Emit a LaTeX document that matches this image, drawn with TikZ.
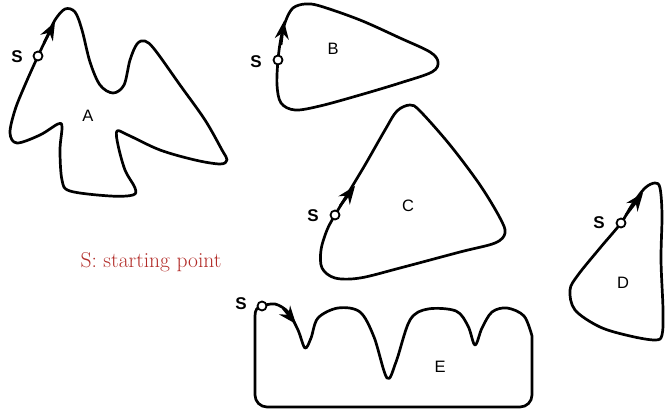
\documentclass[tikz,border=0pt]{standalone}
\usepackage{fontspec}
\setsansfont{Liberation Sans}
\usetikzlibrary{arrows.meta}
\definecolor{capred}{RGB}{178,44,40}
\begin{document}
\begin{tikzpicture}[x=1pt,y=-1pt,
  outline/.style={line width=2.7pt, line join=round},
  startpt/.style={circle, draw, fill=white, line width=1.8pt, minimum size=9pt, inner sep=0pt},
  dirarrow/.style={line width=2.7pt, -{Stealth[length=18pt,width=14pt,inset=6pt]}},
  lbl/.style={font=\sffamily\fontsize{16.5}{19}\selectfont},
  slbl/.style={font=\sffamily\bfseries\fontsize{17}{19}\selectfont}]
\useasboundingbox (0,0) rectangle (668,411);
% Shape A
\draw[outline] plot[smooth cycle, tension=0.55] coordinates {
 (38,56) (47,37) (55,20) (65,9) (75,12) (82,30) (90,62) (100,85) (113,93) (124,85)
 (130,60) (137,44) (145,41) (155,50) (180,85) (205,120) (222,150) (227,160) (220,164)
 (195,160) (160,150) (128,135) (117,131) (118,145) (125,170) (135,188) (133,195)
 (110,196) (70,191) (62,180) (60,150) (62,127) (58,124) (40,135) (17,143) (10,133)
 (15,110) (25,85)};
% Shape B
\draw[outline] plot[smooth cycle, tension=0.55] coordinates {
 (278,60) (281,38) (286,20) (293,8) (305,4) (320,6) (360,20) (400,38) (430,52)
 (438,62) (432,72) (400,83) (360,95) (320,106) (295,110) (281,103) (277,85)};
% Shape C
\draw[outline] plot[smooth cycle, tension=0.55] coordinates {
 (335,215) (347,195) (365,165) (385,130) (397,111) (410,105) (420,111) (450,145)
 (480,185) (500,218) (505,233) (495,243) (460,252) (400,268) (360,278) (335,278)
 (322,268) (321,250) (327,230)};
% Shape D
\draw[outline] plot[smooth cycle, tension=0.55] coordinates {
 (621,223) (632,205) (645,188) (655,183) (660,188) (662,215) (661,260) (663,310)
 (662,335) (655,340) (630,336) (600,327) (575,310) (570,290) (578,275) (600,248)};
% Shape E
\draw[outline] plot[smooth, tension=0.55] coordinates {
 (262,306) (275,304) (288,312) (298,330) (305,348) (311,338) (318,318) (338,308)
 (360,312) (374,337) (387,378) (396,362) (410,320) (428,309) (456,311) (468,326)
 (475,345) (482,328) (492,312) (507,308) (524,316) (532,336)}
 [rounded corners=12pt] -- (532,407) -- (255,407) [sharp corners] -- (255,316)
 .. controls (255,310) and (257,307) .. (262,306);
% start points
\node[startpt] (sA) at (38,56) {};
\node[startpt] (sB) at (278,60) {};
\node[startpt] (sC) at (335,215) {};
\node[startpt] (sD) at (621,223) {};
\node[startpt] (sE) at (262,306) {};
% direction arrows
\coordinate (tA) at (55,22);
\coordinate (tB) at (284,21);
\coordinate (tC) at (355,186);
\coordinate (tD) at (643,193);
\coordinate (tE) at (296,324);
\draw[dirarrow] (44,43) -- (tA);
\draw[dirarrow] (281,45) -- (tB);
\draw[dirarrow] (340,206) -- (tC);
\draw[dirarrow] (626,215) -- (tD);
\draw[dirarrow] (283,308) -- (tE);
% labels
\node[slbl] (lsA) at (17,57) {S};
\node[slbl] (lsB) at (256,62) {S};
\node[slbl] (lsC) at (313,216) {S};
\node[slbl] (lsD) at (599,223) {S};
\node[slbl] (lsE) at (241,304) {S};
\node[lbl] (lA) at (88,116) {A};
\node[lbl] (lB) at (333,49) {B};
\node[lbl] (lC) at (408,206) {C};
\node[lbl] (lD) at (623,283) {D};
\node[lbl] (lE) at (440,367) {E};
\node[text=capred, font=\fontsize{21.5}{25}\selectfont] (cap) at (151,262) {S: starting point};
\end{tikzpicture}
\end{document}
